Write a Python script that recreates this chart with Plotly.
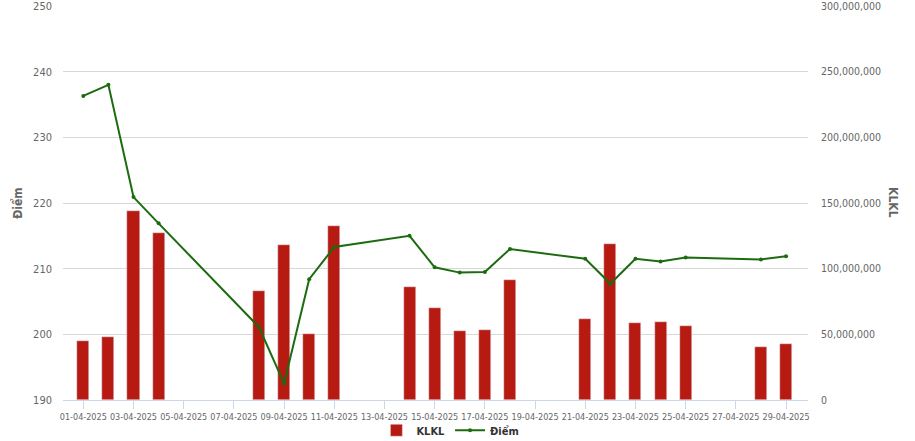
import plotly.graph_objects as go

# trading days in April 2025
dates = ["2025-04-01", "2025-04-02", "2025-04-03", "2025-04-04",
         "2025-04-08", "2025-04-09", "2025-04-10", "2025-04-11",
         "2025-04-14", "2025-04-15", "2025-04-16", "2025-04-17", "2025-04-18",
         "2025-04-21", "2025-04-22", "2025-04-23", "2025-04-24", "2025-04-25",
         "2025-04-28", "2025-04-29"]

# index points (left axis)
diem = [236.3, 238.0, 220.9, 216.9,
        201.1, 192.5, 208.4, 213.3,
        215.0, 210.2, 209.4, 209.5, 213.0,
        211.5, 207.7, 211.5, 211.1, 211.7,
        211.4, 211.9]

# trading volume (right axis)
klkl = [44.9e6, 48.0e6, 143.8e6, 127.1e6,
        83.0e6, 118.0e6, 50.2e6, 132.4e6,
        86.0e6, 70.0e6, 52.5e6, 53.3e6, 91.3e6,
        61.6e6, 118.7e6, 58.6e6, 59.4e6, 56.3e6,
        40.3e6, 42.6e6]

FONT = "Liberation Sans Narrow, DejaVu Sans Condensed, Roboto, sans-serif"
BAR_COLOR = "#b71a10"
LINE_COLOR = "#1c6b0f"

fig = go.Figure()

# bars sit on the base axis (right side) so the line overlay is drawn above them
fig.add_trace(go.Bar(
    x=dates, y=klkl, name="KLKL", yaxis="y",
    marker_color=BAR_COLOR, width=0.48 * 86400000,
))

fig.add_trace(go.Scatter(
    x=dates, y=diem, name="Điểm", mode="lines+markers", yaxis="y2",
    line=dict(color=LINE_COLOR, width=2),
    marker=dict(size=4, color=LINE_COLOR),
))

fig.update_layout(
    width=915, height=441,
    margin=dict(l=63, r=107, t=6, b=41, autoexpand=False),
    plot_bgcolor="white", paper_bgcolor="white",
    font=dict(family=FONT, size=11, color="#666666"),
    showlegend=True,
    legend=dict(orientation="h", x=0.52, xanchor="center", y=-0.04, yanchor="top",
                bgcolor="rgba(0,0,0,0)",
                font=dict(size=11, color="#333333", family=FONT, weight="bold"),
                traceorder="normal", itemwidth=30, tracegroupgap=0),
    bargap=0,
    xaxis=dict(
        type="date",
        range=["2025-03-31 04:35", "2025-04-29 21:00"],
        tick0="2025-04-01", dtick=2 * 86400000,
        tickformat="%d-%m-%Y", tickangle=0, automargin=False,
        ticks="outside", ticklen=8, tickcolor="#ccd6eb",
        showline=True, linecolor="#ccd6eb", linewidth=1,
        showgrid=False, zeroline=False,
        tickfont=dict(size=9, color="#666666"),
    ),
    yaxis=dict(
        range=[0, 300e6], dtick=50e6, automargin=False,
        side="right",
        showgrid=True, gridcolor="#d8d8d8", gridwidth=1,
        zeroline=False, showline=False,
        tickformat=",d",
        ticklabelstandoff=12, ticklabeloverflow="allow",
        tickfont=dict(size=10.5, color="#666666"),
    ),
    yaxis2=dict(
        range=[190, 250], dtick=10, automargin=False,
        overlaying="y", side="left",
        showgrid=False, zeroline=False, showline=False,
        ticklabelstandoff=10, ticklabeloverflow="allow",
        tickfont=dict(size=11, color="#666666"),
    ),
    annotations=[
        dict(text="<b>Điểm</b>", xref="paper", yref="paper", x=-0.062, y=0.5,
             xanchor="center", yanchor="middle", textangle=-90, showarrow=False,
             font=dict(size=12, color="#666666", family=FONT)),
        dict(text="<b>KLKL</b>", xref="paper", yref="paper", x=1.114, y=0.5,
             xanchor="center", yanchor="middle", textangle=90, showarrow=False,
             font=dict(size=12, color="#666666", family=FONT)),
    ],
)

# page body has a default 8px margin; drop it so the chart sits at the corner
fig.write_html("out.html", config={"displayModeBar": False},
               post_script="document.body.style.margin='0';")
